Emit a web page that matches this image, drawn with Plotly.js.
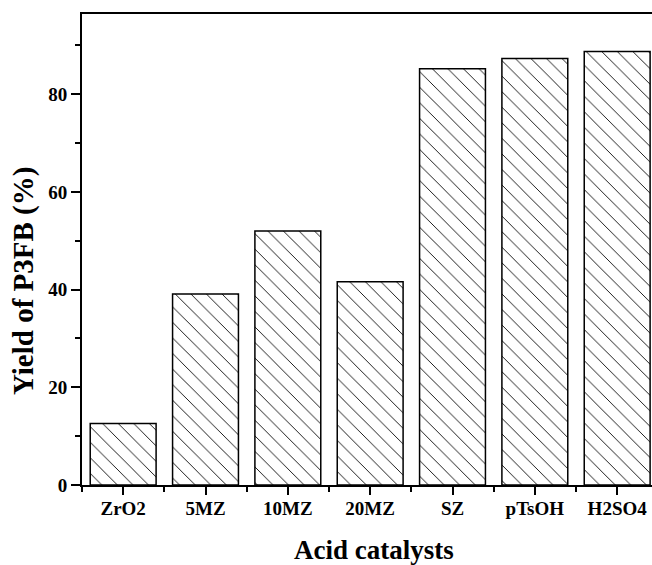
<!DOCTYPE html>
<html>
<head>
<meta charset="utf-8">
<script src="https://cdn.plot.ly/plotly-3.0.1.min.js"></script>
<style>html,body{margin:0;padding:0;background:#fff;}#chart{width:652px;height:565px;}</style>
</head>
<body>
<div id="chart"></div>
<script>
var categories = ["ZrO2", "5MZ", "10MZ", "20MZ", "SZ", "pTsOH", "H2SO4"];
var yields = [12.6, 39.1, 52.0, 41.6, 85.2, 87.3, 88.7];
var yTickVals = [0, 20, 40, 60, 80];

var positions = categories.map(function (c, i) { return i; });

var trace = {
  type: "bar",
  x: positions,
  y: yields,
  width: 0.8,
  marker: {
    color: "#ffffff",
    line: { color: "#000000", width: 1.5 },
    pattern: { shape: "\\", fgcolor: "#000000", bgcolor: "#ffffff", size: 11, solidity: 0.08 }
  },
  hoverinfo: "skip"
};

var tickFont = { family: "Liberation Serif", size: 19, color: "#000", weight: "bold" };

var layout = {
  width: 652,
  height: 565,
  margin: { l: 82, r: 0, t: 14, b: 80 },
  paper_bgcolor: "#fff",
  plot_bgcolor: "#fff",
  showlegend: false,
  xaxis: {
    type: "linear",
    range: [-0.5, 6.423],
    tickmode: "array",
    tickvals: positions,
    ticktext: categories,
    ticks: "outside",
    ticklen: 8,
    tickwidth: 2,
    tickcolor: "#000",
    ticklabelstandoff: -3,
    showline: true,
    linewidth: 2,
    linecolor: "#000",
    mirror: true,
    showgrid: false,
    zeroline: false,
    tickfont: tickFont,
    minor: { tickmode: "linear", tick0: 0.5, dtick: 1, ticks: "outside", ticklen: 5, tickwidth: 2, tickcolor: "#000", showgrid: false }
  },
  yaxis: {
    range: [0, 96.4],
    tickmode: "array",
    tickvals: yTickVals,
    ticks: "outside",
    ticklen: 9,
    tickwidth: 2,
    tickcolor: "#000",
    showline: true,
    linewidth: 2,
    linecolor: "#000",
    showgrid: false,
    zeroline: false,
    tickfont: tickFont,
    minor: { tickmode: "linear", tick0: 10, dtick: 20, ticks: "outside", ticklen: 5, tickwidth: 2, tickcolor: "#000", showgrid: false }
  },
  annotations: [
    {
      text: "Yield of P3FB (%)",
      xref: "paper", yref: "paper",
      x: -0.1035, y: 0.433,
      xanchor: "center", yanchor: "middle",
      textangle: -90,
      showarrow: false,
      font: { family: "Liberation Serif", size: 29, color: "#000", weight: "bold" }
    },
    {
      text: "Acid catalysts",
      xref: "paper", yref: "paper",
      x: 0.513, y: -0.137,
      xanchor: "center", yanchor: "middle",
      showarrow: false,
      font: { family: "Liberation Serif", size: 27, color: "#000", weight: "bold" }
    }
  ]
};

Plotly.newPlot("chart", [trace], layout, { displayModeBar: false, staticPlot: true });
</script>
</body>
</html>
